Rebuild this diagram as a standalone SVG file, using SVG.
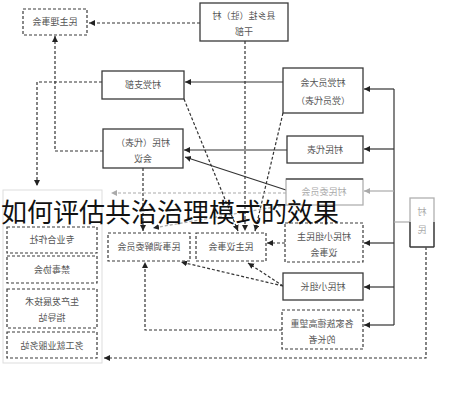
<svg xmlns="http://www.w3.org/2000/svg" width="458" height="400" viewBox="0 0 458 400">
<style>
.bx{fill:#fff;stroke:#3a3a3a;stroke-width:1.3}
.dbx{fill:#fff;stroke:#3a3a3a;stroke-width:1.2;stroke-dasharray:3,2}
.gbx{fill:#fff;stroke:#b0b0b0;stroke-width:1.3}
.lb{font-family:"Noto Sans CJK SC","Noto Sans",sans-serif;font-size:9px;fill:#555;text-anchor:middle}
.glb{font-family:"Noto Sans CJK SC","Noto Sans",sans-serif;font-size:9px;fill:#aaa;text-anchor:middle}
.s{fill:none;stroke:#333;stroke-width:1.2}
.d{fill:none;stroke:#333;stroke-width:1.2;stroke-dasharray:3,2}
.gs{fill:none;stroke:#aaa;stroke-width:1.2}
.gd{fill:none;stroke:#aaa;stroke-width:1.2;stroke-dasharray:3,2}
.title{font-family:"Noto Sans CJK SC","Noto Sans",sans-serif;font-size:26px;fill:#111}
</style>
<defs>
<marker id="a" markerUnits="userSpaceOnUse" markerWidth="7" markerHeight="7" refX="6" refY="3" orient="auto"><path d="M0,0 L6,3 L0,6 z" fill="#222"/></marker>
<marker id="ga" markerUnits="userSpaceOnUse" markerWidth="7" markerHeight="7" refX="6" refY="3" orient="auto"><path d="M0,0 L6,3 L0,6 z" fill="#aaa"/></marker>
</defs>
<rect width="458" height="400" fill="#fff"/>
<rect x="3" y="190" width="99" height="173" fill="none" stroke="#ddd" stroke-width="1"/>
<g id="connectors">
<path class="d" d="M200,23 H89" marker-end="url(#a)"/>
<path class="d" d="M245,41 V231" marker-end="url(#a)"/>
<path class="s" d="M283,82 H185" marker-end="url(#a)"/>
<path class="s" d="M394,89 V325"/>
<path class="s" d="M394,89 H364" marker-end="url(#a)"/>
<path class="s" d="M394,149 H364" marker-end="url(#a)"/>
<path class="gs" d="M394,191 H364" marker-end="url(#ga)"/>
<path class="s" d="M394,243 H364" marker-end="url(#a)"/>
<path class="s" d="M394,287 H364" marker-end="url(#a)"/>
<path class="s" d="M394,325 H364" marker-end="url(#a)"/>
<path class="gs" d="M410,222 H394"/>
<path class="d" d="M426,247 V358 H104" marker-end="url(#a)"/>
<path class="s" d="M287,150 H184" marker-end="url(#a)"/>
<path class="s" d="M286,190 L185,157" marker-end="url(#a)"/>
<path class="d" d="M184,99 L238,231" marker-end="url(#a)"/>
<path class="d" d="M283,113 L255,231" marker-end="url(#a)"/>
<path class="d" d="M143,168 V231" marker-end="url(#a)"/>
<path class="gd" d="M286,205 L153,228" marker-end="url(#a)"/>
<path class="gd" d="M286,193 H111" marker-end="url(#ga)"/>
<path class="d" d="M285,243 H267" marker-end="url(#a)"/>
<path class="d" d="M283,286 L248,263" marker-end="url(#a)"/>
<path class="d" d="M283,286 L181,262" marker-end="url(#a)"/>
<path class="d" d="M282,330 H145 V262" marker-end="url(#a)"/>
<path class="d" d="M103,151 H55 V36" marker-end="url(#a)"/>
<path class="d" d="M102,82 H37 V186" marker-end="url(#a)"/>
</g>
<g id="n1"><rect class="dbx" x="23" y="9" width="64" height="26"/><text class="lb" x="55" y="25" transform="matrix(-1,0,0,1,110,0)">民主理事会</text></g>
<g id="n2"><rect class="bx" x="200" y="3" width="88" height="38"/><text class="lb" x="244" y="19" transform="matrix(-1,0,0,1,488,0)">县乡挂（驻）村</text><text class="lb" x="244" y="35" transform="matrix(-1,0,0,1,488,0)">干部</text></g>
<g id="n3"><rect class="bx" x="102" y="71" width="82" height="28"/><text class="lb" x="143" y="88" transform="matrix(-1,0,0,1,286,0)">村党支部</text></g>
<g id="n4"><rect class="bx" x="283" y="68" width="80" height="45"/><text class="lb" x="323" y="86" transform="matrix(-1,0,0,1,646,0)">村党员大会</text><text class="lb" x="323" y="104" transform="matrix(-1,0,0,1,646,0)">（党员代表）</text></g>
<g id="n5"><rect class="bx" x="103" y="129" width="80" height="39"/><text class="lb" x="143" y="146" transform="matrix(-1,0,0,1,286,0)">村民（代表）</text><text class="lb" x="143" y="162" transform="matrix(-1,0,0,1,286,0)">会议</text></g>
<g id="n6"><rect class="bx" x="287" y="136" width="76" height="27"/><text class="lb" x="325" y="153" transform="matrix(-1,0,0,1,650,0)">村民代表</text></g>
<g id="n7"><rect class="gbx" x="286" y="179" width="77" height="26"/><line x1="286" y1="179" x2="363" y2="179" stroke="#555" stroke-width="1.3"/><text class="glb" x="324" y="195" transform="matrix(-1,0,0,1,648,0)">村民委员会</text></g>
<g id="n8"><rect class="gbx" x="410" y="198" width="24" height="49"/><line x1="410" y1="247" x2="434" y2="247" stroke="#333" stroke-width="1.3"/><line x1="410" y1="222" x2="410" y2="247" stroke="#333" stroke-width="1.3"/><line x1="434" y1="222" x2="434" y2="247" stroke="#333" stroke-width="1.3"/><text class="glb" x="422" y="215" transform="matrix(-1,0,0,1,844,0)">村</text><text class="glb" x="422" y="233" transform="matrix(-1,0,0,1,844,0)">民</text></g>
<g id="n9"><rect class="dbx" x="285" y="223" width="78" height="39"/><text class="lb" x="324" y="240" transform="matrix(-1,0,0,1,648,0)">村民小组民主</text><text class="lb" x="324" y="256" transform="matrix(-1,0,0,1,648,0)">议事会</text></g>
<g id="n10"><rect class="dbx" x="196" y="233" width="70" height="28"/><text class="lb" x="231" y="250" transform="matrix(-1,0,0,1,462,0)">民主议事会</text></g>
<g id="n11"><rect class="dbx" x="108" y="233" width="82" height="28"/><text class="lb" x="149" y="250" transform="matrix(-1,0,0,1,298,0)">民事调解委员会</text></g>
<g id="n12"><rect class="bx" x="283" y="273" width="80" height="27"/><text class="lb" x="323" y="290" transform="matrix(-1,0,0,1,646,0)">村民小组长</text></g>
<g id="n13"><rect class="dbx" x="282" y="310" width="81" height="39"/><text class="lb" x="322" y="327" transform="matrix(-1,0,0,1,644,0)">各家族德高望重</text><text class="lb" x="322" y="343" transform="matrix(-1,0,0,1,644,0)">的长者</text></g>
<g id="n14"><rect class="dbx" x="7" y="227" width="90" height="26"/><text class="lb" x="52" y="243" transform="matrix(-1,0,0,1,104,0)">专业合作社</text></g>
<g id="n15"><rect class="dbx" x="7" y="256" width="90" height="27"/><text class="lb" x="52" y="273" transform="matrix(-1,0,0,1,104,0)">禁毒协会</text></g>
<g id="n16"><rect class="dbx" x="7" y="289" width="90" height="39"/><text class="lb" x="52" y="305" transform="matrix(-1,0,0,1,104,0)">生产发展技术</text><text class="lb" x="52" y="321" transform="matrix(-1,0,0,1,104,0)">指导站</text></g>
<g id="n17"><rect class="dbx" x="7" y="332" width="90" height="26"/><text class="lb" x="52" y="349" transform="matrix(-1,0,0,1,104,0)">务工就业服务站</text></g>
<text class="title" x="1" y="222">如何评估共治治理模式的效果</text>
</svg>
